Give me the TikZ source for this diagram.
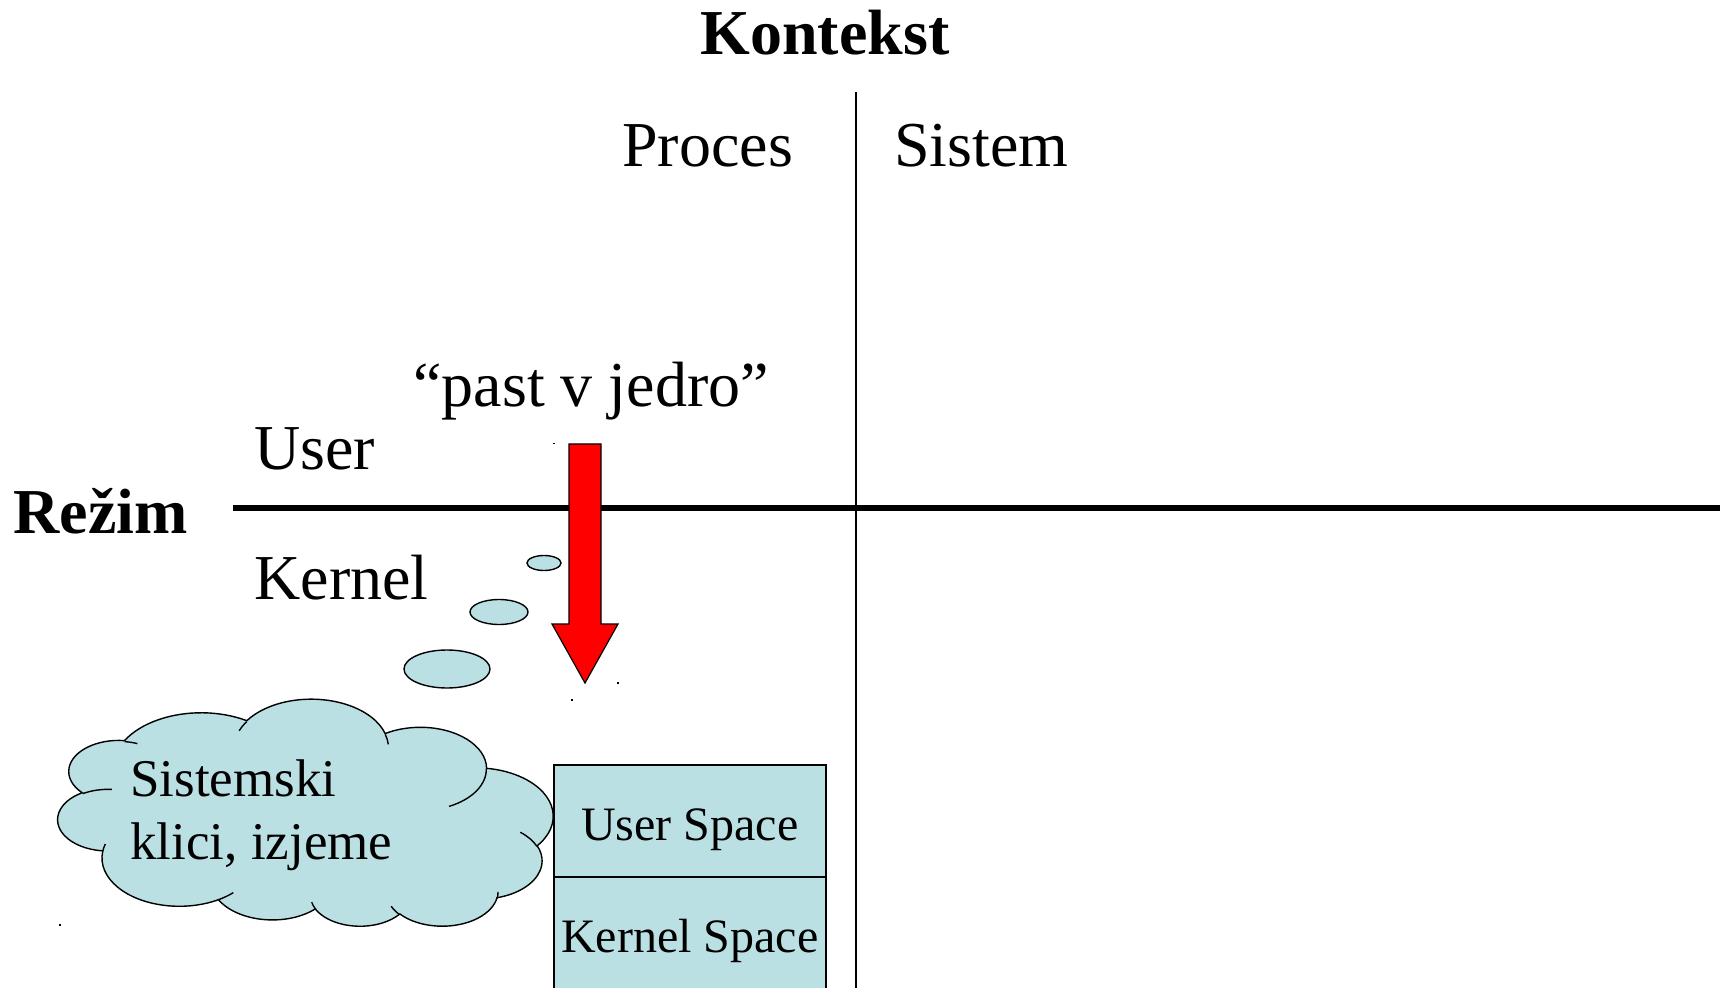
\documentclass[tikz,border=0pt]{standalone}
\usepackage{fontspec}
\setmainfont{Liberation Serif}
\definecolor{cloudblue}{RGB}{187,224,228}
\definecolor{trapred}{RGB}{255,0,0}

% Elliptical arc given by its "visual" start angle and sweep (degrees):
% the visual angle is turned into the parametric angle of the ellipse.
\newcommand\vang[3]{(atan2((#1)*sin(#3),(#2)*cos(#3))+360*round(((#3)-atan2((#1)*sin(#3),(#2)*cos(#3)))/360))}
\newcommand\carc[4]{arc[x radius=#1, y radius=#2, start angle={\vang{#1}{#2}{#3}}, end angle={\vang{#1}{#2}{(#3)+(#4)}}]}

\begin{document}
\begin{tikzpicture}[x=0.5pt,y=-0.5pt,
  lbl/.style={anchor=base west, inner sep=0pt, font=\fontsize{32}{38}\selectfont},
  ttl/.style={anchor=base, inner sep=0pt, font=\fontsize{32}{38}\selectfont\bfseries},
  axisline/.style={draw=black, line width=1pt},
  modeline/.style={draw=black, line width=2.6pt},
  bubble/.style={draw=black, line width=0.7pt, fill=cloudblue},
  spacebox/.style={draw=black, line width=0.8pt, fill=cloudblue, rectangle,
    minimum width=136pt, minimum height=56pt, inner sep=0pt,
    text height=20pt, text depth=0pt, font=\fontsize{24}{28}\selectfont},
  cloudtxt/.style={anchor=base west, inner sep=0pt, font=\fontsize{26.5}{31.5}\selectfont},
  traparrow/.style={draw=black, line width=0.6pt, fill=trapred}]
\useasboundingbox (0,0) rectangle (1723,988);

% axes
\coordinate (vtop) at (856,92);
\coordinate (vbot) at (856,988);
\coordinate (hleft) at (233,508);
\coordinate (hright) at (1720,508);
\draw[axisline] (vtop) -- (vbot);
\draw[modeline] (hleft) -- (hright);

% headings and quadrant labels
\node[ttl] (kontekst) at (825,55) {Kontekst};
\node[lbl] (proces) at (622,167) {Proces};
\node[lbl] (sistem) at (894,167) {Sistem};
\node[lbl, font=\fontsize{32}{38}\selectfont\bfseries] (rezim) at (13,533) {Režim};
\node[lbl] (user) at (254,470) {User};
\node[lbl] (kernel) at (254,599) {Kernel};
\node[lbl] (trap) at (413,407) {“past v jedro”};

% trap arrow
\draw[traparrow] (569,444) -- (601,444) -- (601,624) -- (618,624)
  -- (585,683) -- (552,624) -- (569,624) -- cycle;

% thought bubbles
\draw[bubble] (544,563) ellipse[x radius=17, y radius=7.5];
\draw[bubble] (499,612) ellipse[x radius=29, y radius=12.5];
\draw[bubble] (447,669) ellipse[x radius=43, y radius=19];

% address space boxes
\node[spacebox, anchor=north west] (us) at (553,764) {User Space};
\node[spacebox, anchor=north west] (ks) at (553,876) {Kernel Space};

% cloud (drawn upside down: its frame has y pointing up from the bottom edge)
\begin{scope}[shift={(58,927)}, x=0.57292pt, y=0.26273pt]
\path[bubble] (39,143.70)
  \carc{67.53}{91.90}{-190.48748}{123.78053}
  \carc{53.33}{72.67}{-144.10238}{89.94523}
  \carc{43.65}{59.45}{-145.80792}{99.72302}
  \carc{48.57}{65.95}{-130.98607}{117.24173}
  \carc{53.33}{72.73}{-78.70888}{109.02692}
  \carc{67.75}{92.20}{-46.26725}{130.26900}
  \carc{57.85}{78.67}{0.62502}{114.03333}
  \carc{67.52}{92.15}{22.45160}{115.17255}
  \carc{77.20}{105.43}{66.24263}{75.71102}
  \carc{43.60}{59.18}{-274.94208}{146.73557}
  \carc{43.45}{59.45}{-246.82850}{152.51885}
  -- cycle;
\begin{scope}[draw=black, line width=0.7pt]
\draw (46.93,261.77) \carc{43.45}{59.45}{86.74200}{26.42950};
\draw (69.28,348.99) \carc{43.60}{59.18}{73.61047}{11.44747};
\draw (164.78,390.90) \carc{67.52}{92.15}{137.62415}{14.08110};
\draw (288.27,347.51) \carc{67.52}{92.15}{6.45327}{15.99835};
\draw (341.29,229.54) \carc{57.85}{78.67}{-70.29235}{70.91737};
\draw (417.98,153.54) \carc{53.33}{72.73}{30.31803}{27.75150};
\draw (383.24,54.26) \carc{48.57}{65.95}{-13.74433}{14.85890};
\draw (290.78,39.52) \carc{48.57}{65.95}{-149.18145}{18.19537};
\draw (221.41,47.20) \carc{43.65}{59.45}{-163.49427}{17.68635};
\draw (140.00,51.92) \carc{67.53}{91.90}{-66.70695}{12.31935};
\draw (41.27,157.89) \carc{67.53}{91.90}{157.65435}{11.85817};
\end{scope}
\end{scope}
\node[cloudtxt] (calls1) at (130,796) {Sistemski};
\node[cloudtxt] (calls2) at (130,859) {klici, izjeme};

% stray marks
\fill (553,443) rectangle ++(1.5,1.5);
\fill (617,682) rectangle ++(1.5,1.5);
\fill (571,699) rectangle ++(1.5,1.5);
\fill (59,924) rectangle ++(1.5,1.5);
\end{tikzpicture}
\end{document}
